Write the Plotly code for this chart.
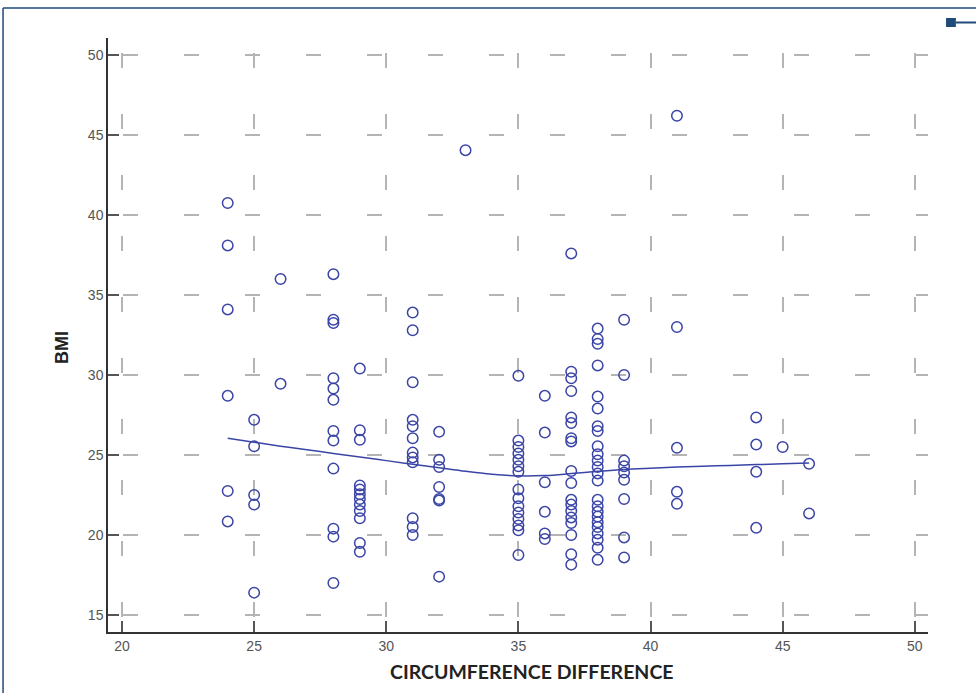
import plotly.graph_objects as go

# ---- data ----
circ_values = [24, 25, 26, 28, 29, 31, 32, 33, 35, 36, 37, 38, 39, 41, 44, 45, 46]
bmi_24 = [40.75, 38.1, 34.1, 28.7, 22.75, 20.85]
bmi_25 = [27.2, 25.55, 22.5, 21.9, 16.4]
bmi_26 = [36.0, 29.45]
bmi_28 = [36.3, 33.45, 33.25, 29.8, 29.15, 28.45, 26.5, 25.9, 24.15, 20.4, 19.9, 17.0]
bmi_29 = [30.4, 26.55, 25.95, 23.1, 22.85, 22.55, 22.25, 21.9, 21.5, 21.05, 19.5, 18.95]
bmi_31 = [33.9, 32.8, 29.55, 27.2, 26.8, 26.05, 25.15, 24.85, 24.55, 21.05, 20.5, 20.0]
bmi_32 = [26.45, 24.7, 24.25, 23.0, 22.25, 22.15, 17.4]
bmi_33 = [44.05]
bmi_35 = [29.95, 25.9, 25.5, 25.1, 24.7, 24.3, 23.95, 22.85, 22.3, 21.8, 21.4, 21.0, 20.6, 20.3, 18.75]
bmi_36 = [28.7, 26.4, 23.3, 21.45, 20.1, 19.75]
bmi_37 = [37.6, 30.2, 29.8, 29.0, 27.35, 27.0, 26.05, 25.85, 24.0, 23.25, 22.2, 21.9, 21.5, 21.1, 20.75, 20.0, 18.8, 18.15]
bmi_38 = [32.9, 32.25, 31.95, 30.6, 28.65, 27.9, 26.8, 26.5, 25.55, 25.05, 24.65, 24.25, 23.85, 23.4,
          22.2, 21.8, 21.45, 21.15, 20.8, 20.5, 20.1, 19.7, 19.2, 18.45]
bmi_39 = [33.45, 30.0, 24.65, 24.3, 23.9, 23.45, 22.25, 19.85, 18.6]
bmi_41 = [46.2, 33.0, 25.45, 22.7, 21.95]
bmi_44 = [27.35, 25.65, 23.95, 20.45]
bmi_45 = [25.5]
bmi_46 = [24.45, 21.35]
bmi_columns = [bmi_24, bmi_25, bmi_26, bmi_28, bmi_29, bmi_31, bmi_32, bmi_33, bmi_35,
               bmi_36, bmi_37, bmi_38, bmi_39, bmi_41, bmi_44, bmi_45, bmi_46]

trend_x = [24, 25, 26, 27, 28, 29, 30, 31, 32, 33, 34, 35, 36, 37, 38, 39, 40, 41, 42, 43, 44, 45, 46]
trend_y = [26.05, 25.8, 25.55, 25.33, 25.1, 24.88, 24.65, 24.42, 24.2, 23.98, 23.8, 23.7, 23.72,
           23.84, 23.98, 24.1, 24.18, 24.25, 24.3, 24.35, 24.4, 24.45, 24.5]

x_ticks = [20, 25, 30, 35, 40, 45, 50]
y_ticks = [15, 20, 25, 30, 35, 40, 45, 50]

xs, ys = [], []
for cx, col in zip(circ_values, bmi_columns):
    for v in col:
        xs.append(cx)
        ys.append(v)

BLUE = "#3a45a6"
GRID = "#b4b4b4"
FRAME = "#1f4a7a"

fig = go.Figure()
fig.add_trace(go.Scatter(
    x=xs, y=ys, mode="markers",
    marker=dict(symbol="circle-open", size=10.5, color=BLUE, line=dict(width=1.5, color=BLUE)),
    showlegend=False, hoverinfo="x+y"))
fig.add_trace(go.Scatter(
    x=trend_x, y=trend_y, mode="lines", line=dict(color=BLUE, width=1.5, shape="spline", smoothing=1.0),
    showlegend=False))

axis_common = dict(
    showline=True, linecolor="#333333", linewidth=1.5,
    ticks="inside", ticklen=11, tickwidth=1.5, tickcolor="#555555",
    showgrid=True, gridcolor=GRID, gridwidth=1.5, griddash="0px,15px,15px,31px",
    zeroline=False, mirror=False,
    tickfont=dict(family="Liberation Sans, Arial, sans-serif", size=14, color="#555555"),
)

fig.update_xaxes(range=[19.47, 50.5], tickmode="array", tickvals=x_ticks,
                 ticktext=[str(t) for t in x_ticks], **axis_common)
fig.update_yaxes(range=[13.94, 51.06], tickmode="array", tickvals=y_ticks,
                 ticktext=[str(t) for t in y_ticks], **axis_common)

fig.update_layout(
    width=976, height=693,
    margin=dict(l=108, r=48, t=38, b=61),
    plot_bgcolor="white", paper_bgcolor="white",
    showlegend=False,
    annotations=[
        dict(text="<b>CIRCUMFERENCE DIFFERENCE</b>", xref="paper", yref="paper",
             x=0.517, y=-0.0673, xanchor="center", yanchor="middle", showarrow=False,
             font=dict(family="Lato, Open Sans, sans-serif", size=19.5, color="#222222")),
        dict(text="<b>BMI</b>", xref="paper", yref="paper", textangle=-90,
             x=-0.0561, y=0.48, xanchor="center", yanchor="middle", showarrow=False,
             font=dict(family="Liberation Sans, Arial, sans-serif", size=18, color="#222222")),
    ],
    shapes=[
        # page frame (top and left edges visible)
        dict(type="line", xref="paper", yref="paper", x0=-0.128, x1=1.08, y0=1.0505, y1=1.0505,
             line=dict(color=FRAME, width=1.5)),
        dict(type="line", xref="paper", yref="paper", x0=-0.128, x1=-0.128, y0=-0.12, y1=1.0505,
             line=dict(color=FRAME, width=1.5)),
        # corner marker
        dict(type="line", xref="paper", yref="paper", x0=1.034, x1=1.08, y0=1.026, y1=1.026,
             line=dict(color=FRAME, width=2)),
        dict(type="rect", xref="paper", yref="paper", x0=1.022, x1=1.034, y0=1.0185, y1=1.0337,
             fillcolor=FRAME, line=dict(color=FRAME, width=0)),
    ],
)

fig.write_html("out.html")
